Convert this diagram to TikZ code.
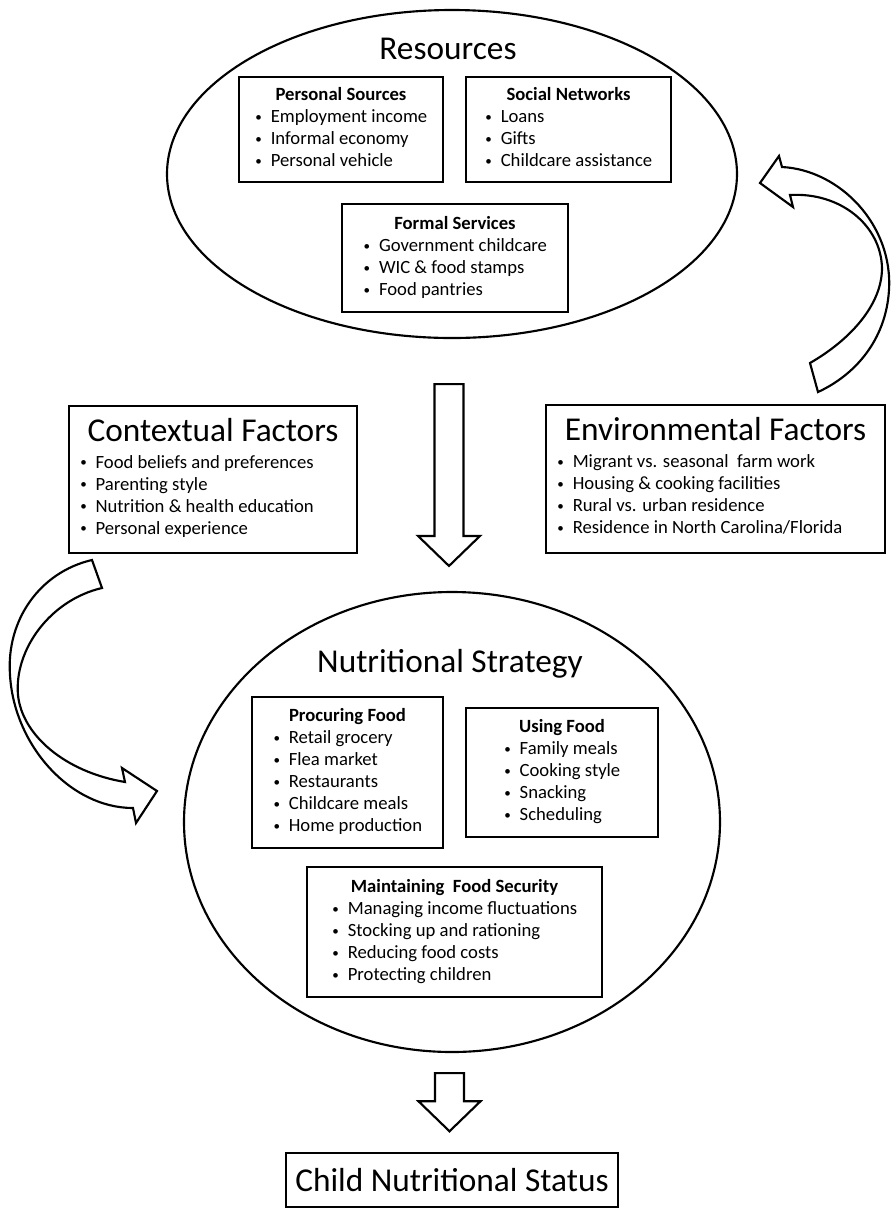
\documentclass[tikz,border=0pt]{standalone}
\usepackage{fontspec}
\setmainfont{Carlito}
\usetikzlibrary{shapes.geometric, calc}

\tikzset{
  ringnode/.style={draw, ellipse, line width=1.6pt, inner sep=0pt},
  listbox/.style={draw, line width=1.1pt, fill=white, inner sep=0pt,
    font=\fontsize{14}{16.5}\selectfont},
  headtext/.style={font=\fontsize{25}{30}\selectfont, inner sep=0pt, anchor=base},
  blockarrow/.style={draw, line width=1.6pt, fill=white, line join=miter}
}
\newcommand{\bul}{\makebox[12pt][l]{\hspace{0.5pt}\raisebox{1pt}{\scalebox{0.7}{•}}}}
\newcommand{\hd}[1]{\multicolumn{1}{c}{\textbf{#1}}}
\newcommand{\bigtitle}[1]{\multicolumn{1}{c}{\fontsize{25}{30}\selectfont #1}}
% straight block arrow: top, tip, shaft half width, head half width
\newcommand{\downblock}[4]{%
  \draw[blockarrow] ($(#1)+(-#3,0)$) -- ($(#1)+(#3,0)$) -- ($(#2)+(#3,-30)$)
    -- ($(#2)+(#4,-30)$) -- (#2) -- ($(#2)+(-#4,-30)$) -- ($(#2)+(-#3,-30)$) -- cycle;}

\begin{document}
\begin{tikzpicture}[x=0.75pt, y=-0.75pt]
\useasboundingbox (0,0) rectangle (892,1208);

% resources
\node[ringnode, minimum width=427.5pt, minimum height=246pt] (res) at (452,174) {};
\node[headtext] (restitle) at (448,59) {Resources};
\node[listbox, minimum width=153pt, minimum height=79pt] (personal) at (341,129.5)
  {\begin{tabular}{@{}l@{}}\hd{Personal Sources}\\ \bul Employment income\\
   \bul Informal economy\\ \bul Personal vehicle\end{tabular}};
\node[listbox, minimum width=154pt, minimum height=79pt] (social) at (568.5,129.5)
  {\begin{tabular}{@{}l@{}}\hd{Social Networks}\\ \bul Loans\\
   \bul Gifts\\ \bul Childcare assistance\end{tabular}};
\node[listbox, minimum width=169.5pt, minimum height=81pt] (formal) at (455,258)
  {\begin{tabular}{@{}l@{}}\hd{Formal Services}\\ \bul Government childcare\\
   \bul WIC \& food stamps\\ \bul Food pantries\end{tabular}};

% factors
\node[listbox, minimum width=216pt, minimum height=110pt] (context) at (213,479.5)
  {\begin{tabular}{@{}l@{}}\bigtitle{Contextual Factors}\\[3.5pt]
   \bul Food beliefs and preferences\\ \bul Parenting style\\
   \bul Nutrition \& health education\\ \bul Personal experience\end{tabular}};
\node[listbox, minimum width=254pt, minimum height=111pt] (environ) at (715.5,479)
  {\begin{tabular}{@{}l@{}}\bigtitle{Environmental Factors}\\[3.5pt]
   \bul Migrant vs. seasonal~ farm work\\ \bul Housing \& cooking facilities\\
   \bul Rural vs. urban residence\\ \bul Residence in North Carolina/Florida\end{tabular}};

% nutritional strategy
\node[ringnode, minimum width=402pt, minimum height=345pt] (nut) at (452,822) {};
\node[headtext] (nuttitle) at (450,672) {Nutritional Strategy};
\node[listbox, minimum width=143pt, minimum height=113pt] (procure) at (347.5,772.5)
  {\begin{tabular}{@{}l@{}}\hd{Procuring Food}\\ \bul Retail grocery\\ \bul Flea market\\
   \bul Restaurants\\ \bul Childcare meals\\ \bul Home production\end{tabular}};
\node[listbox, minimum width=144pt, minimum height=97pt] (using) at (562,772.5)
  {\begin{tabular}{@{}l@{}}\hd{Using Food}\\ \bul Family meals\\ \bul Cooking style\\
   \bul Snacking\\ \bul Scheduling\end{tabular}};
\node[listbox, minimum width=221pt, minimum height=97.5pt] (maintain) at (454.5,932)
  {\begin{tabular}{@{}l@{}}\hd{Maintaining~ Food Security}\\ \bul Managing income fluctuations\\
   \bul Stocking up and rationing\\ \bul Reducing food costs\\ \bul Protecting children\end{tabular}};

% outcome
\node[listbox, font=\fontsize{25}{30}\selectfont, minimum width=249pt, minimum height=40.5pt]
  (child) at (452,1180) {Child Nutritional Status};

% straight arrows
\coordinate (bigtop) at ($(res.south)+(-3,45)$);
\coordinate (bigtip) at ($(nut.north)+(-3,-25)$);
\downblock{bigtop}{bigtip}{14.5}{31}
\coordinate (smalltop) at ($(nut.south)+(-2.5,20)$);
\coordinate (smalltip) at ($(child.north)+(-2.5,-21)$);
\downblock{smalltop}{smalltip}{14.5}{31}

% curved arrows
\draw[blockarrow] (760,183) -- (779,156) -- (782,167)
  .. controls (840,170) and (893,225) .. (889,290)
  .. controls (886,340) and (855,375) .. (818,392) -- (810,363)
  .. controls (850,340) and (882,305) .. (882,268)
  .. controls (881,225) and (840,192) .. (790,195) -- (793,207) -- cycle;
\draw[blockarrow] (157,791) -- (122,768) -- (125,782)
  .. controls (65,772) and (22,735) .. (18,695)
  .. controls (14,650) and (50,600) .. (102,588) -- (92,560)
  .. controls (40,572) and (6,620) .. (10,675)
  .. controls (14,745) and (70,808) .. (133,808) -- (136,823) -- cycle;
\end{tikzpicture}
\end{document}
